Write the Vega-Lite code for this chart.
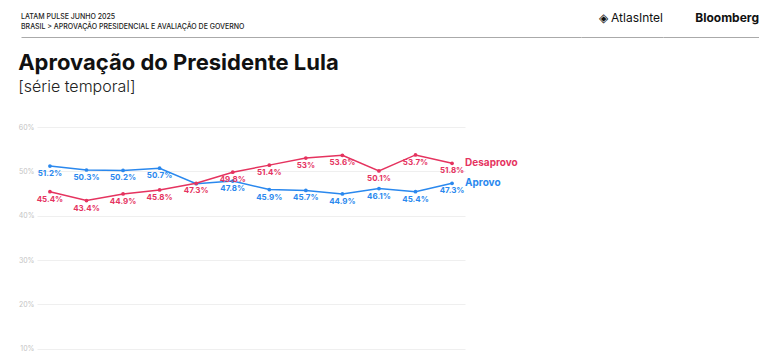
{
  "$schema": "https://vega.github.io/schema/vega-lite/v6.json",
  "padding": {"left": 18, "top": 12, "right": 0, "bottom": 0},
  "background": "white",
  "config": {"view": {"stroke": null}, "font": "Inter"},
  "spacing": 15,
  "vconcat": [
    {
      "spacing": 0,
      "bounds": "flush",
      "hconcat": [
        {
          "width": 560, "height": 1,
          "title": {"text": ["LATAM PULSE JUNHO 2025", "BRASIL > APROVAÇÃO PRESIDENCIAL E AVALIAÇÃO DE GOVERNO"], "anchor": "start", "fontSize": 7, "fontWeight": 500, "color": "#222222", "lineHeight": 10, "offset": 6},
          "data": {"values": []},
          "mark": "point",
          "encoding": {"x": {"field": "a", "type": "quantitative", "scale": {"domain": [0, 1]}, "axis": {"labels": false, "ticks": false, "grid": false, "title": null, "domainColor": "#aaaaaa", "domainWidth": 1}}}
        },
        {
          "width": 82, "height": 1,
          "title": {"text": "◈ AtlasIntel", "anchor": "end", "fontSize": 12, "fontWeight": 400, "color": "#111111", "offset": 11},
          "data": {"values": []},
          "mark": "point",
          "encoding": {"x": {"field": "a", "type": "quantitative", "scale": {"domain": [0, 1]}, "axis": {"labels": false, "ticks": false, "grid": false, "title": null, "domainColor": "#aaaaaa", "domainWidth": 1}}}
        },
        {
          "width": 96, "height": 1,
          "title": {"text": "Bloomberg", "anchor": "end", "fontSize": 12, "fontWeight": 700, "color": "#111111", "offset": 11},
          "data": {"values": []},
          "mark": "point",
          "encoding": {"x": {"field": "a", "type": "quantitative", "scale": {"domain": [0, 1]}, "axis": {"labels": false, "ticks": false, "grid": false, "title": null, "domainColor": "#aaaaaa", "domainWidth": 1}}}
        }
      ]
    },
    {
      "title": {"text": "Aprovação do Presidente Lula", "subtitle": "[série temporal]", "anchor": "start", "frame": "bounds", "fontSize": 22, "fontWeight": 700, "color": "#111111", "subtitleFontSize": 16, "subtitleFontWeight": 300, "subtitleColor": "#222222", "subtitlePadding": 4, "offset": 27},
      "spacing": 2,
      "hconcat": [
        {
          "width": 1,
          "height": 266,
          "data": {"values": []},
          "mark": "point",
          "encoding": {
            "y": {"field": "v", "type": "quantitative", "scale": {"domain": [0, 0.6]}, "axis": {"orient": "right", "values": [0.1, 0.2, 0.3, 0.4, 0.5, 0.6], "format": ".0%", "domain": false, "ticks": false, "grid": false, "labelFontSize": 7, "labelColor": "#c4c4c4", "labelAlign": "right", "labelPadding": 12, "title": null}}
          }
        },
        {
          "width": 428,
          "height": 266,
          "data": {"values": [
            {"i": 1, "s": "Aprovo", "v": 0.512}, {"i": 2, "s": "Aprovo", "v": 0.503}, {"i": 3, "s": "Aprovo", "v": 0.502}, {"i": 4, "s": "Aprovo", "v": 0.507},
            {"i": 5, "s": "Aprovo", "v": 0.472}, {"i": 6, "s": "Aprovo", "v": 0.478}, {"i": 7, "s": "Aprovo", "v": 0.459}, {"i": 8, "s": "Aprovo", "v": 0.457},
            {"i": 9, "s": "Aprovo", "v": 0.449}, {"i": 10, "s": "Aprovo", "v": 0.461}, {"i": 11, "s": "Aprovo", "v": 0.454}, {"i": 12, "s": "Aprovo", "v": 0.473},
            {"i": 1, "s": "Desaprovo", "v": 0.454}, {"i": 2, "s": "Desaprovo", "v": 0.434}, {"i": 3, "s": "Desaprovo", "v": 0.449}, {"i": 4, "s": "Desaprovo", "v": 0.458},
            {"i": 5, "s": "Desaprovo", "v": 0.473}, {"i": 6, "s": "Desaprovo", "v": 0.498}, {"i": 7, "s": "Desaprovo", "v": 0.514}, {"i": 8, "s": "Desaprovo", "v": 0.53},
            {"i": 9, "s": "Desaprovo", "v": 0.536}, {"i": 10, "s": "Desaprovo", "v": 0.501}, {"i": 11, "s": "Desaprovo", "v": 0.537}, {"i": 12, "s": "Desaprovo", "v": 0.518}
          ]},
          "encoding": {
            "x": {"field": "i", "type": "ordinal", "scale": {"type": "point", "padding": 0.354}, "axis": null},
            "y": {"field": "v", "type": "quantitative", "scale": {"domain": [0, 0.6]}, "axis": {"values": [0.1, 0.2, 0.3, 0.4, 0.5, 0.6], "labels": false, "domain": false, "ticks": false, "gridColor": "#efefef", "title": null}},
            "color": {"field": "s", "type": "nominal", "scale": {"domain": ["Aprovo", "Desaprovo"], "range": ["#2A88EE", "#E5335F"]}, "legend": null}
          },
          "layer": [
            {"mark": {"type": "line", "strokeWidth": 1.5}},
            {"mark": {"type": "circle", "size": 14, "opacity": 1}},
            {
              "transform": [{"filter": "!(datum.s == 'Aprovo' && datum.i == 5)"}],
              "mark": {"type": "text", "dy": 8, "fontSize": 8, "fontWeight": 700, "baseline": "middle"},
              "encoding": {"text": {"field": "v", "type": "quantitative", "format": ".1~%"}}
            },
            {
              "transform": [{"filter": "datum.i == 12"}],
              "mark": {"type": "text", "dx": 13, "align": "left", "baseline": "middle", "fontSize": 10, "fontWeight": 700},
              "encoding": {"text": {"field": "s", "type": "nominal"}}
            }
          ]
        }
      ]
    }
  ]
}
